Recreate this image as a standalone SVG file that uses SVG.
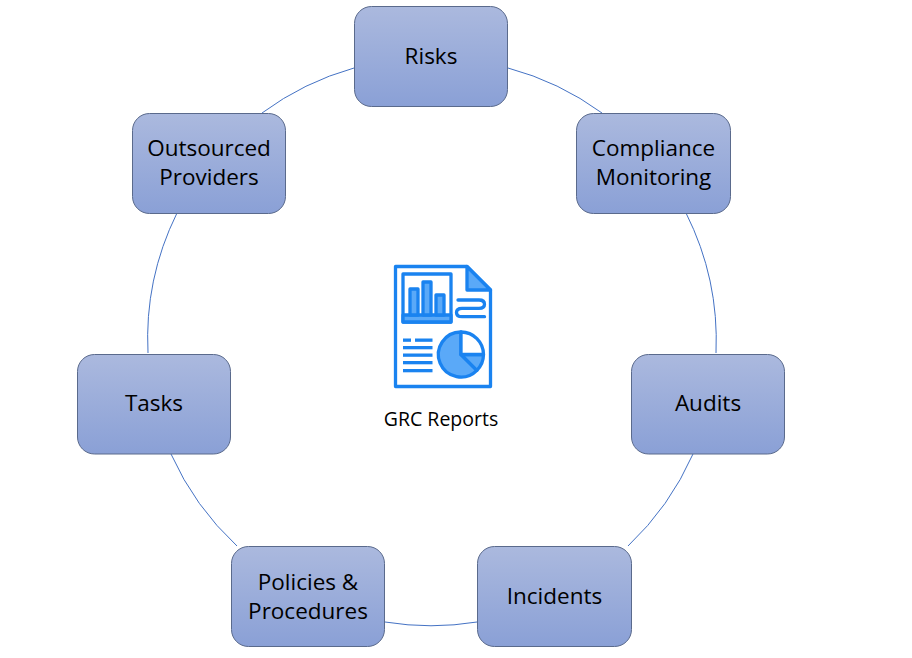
<svg xmlns="http://www.w3.org/2000/svg" width="912" height="658" viewBox="0 0 912 658">
<style>
.n{fill:url(#g);stroke:#5a6a8c;stroke-width:1}
.t{font-family:"Open Sans","Noto Sans",sans-serif;font-size:22.500px;fill:#000;text-anchor:middle}
.c{fill:none;stroke:#4472c4;stroke-width:1}
.s{fill:none;stroke:#1a83f0;stroke-width:3.300;stroke-linejoin:round;stroke-linecap:round}
.f{fill:#5aa9f8;stroke:#1a83f0;stroke-width:3.300;stroke-linejoin:round}
.b{fill:#1a83f0}
</style>
<defs><linearGradient id="g" x1="0" y1="0" x2="0" y2="1"><stop offset="0" stop-color="#abb9de"/><stop offset="1" stop-color="#8aa0d6"/></linearGradient></defs>
<rect width="912" height="658" fill="#fff"/>
<g id="connectors">
<path class="c" d="M262 113A284.500 284.500 0 0 1 354 68"/>
<path class="c" d="M508 68A284.500 284.500 0 0 1 602 113"/>
<path class="c" d="M686 213A284.500 284.500 0 0 1 716 353"/>
<path class="c" d="M693 454A284.500 284.500 0 0 1 628 546"/>
<path class="c" d="M477 622A284.500 284.500 0 0 1 385 622"/>
<path class="c" d="M237 546A284.500 284.500 0 0 1 171 454"/>
<path class="c" d="M148 353A284.500 284.500 0 0 1 177 213"/>
</g>
<g id="risks"><rect class="n" x="354.500" y="6.500" width="153" height="100" rx="17"/><text class="t" x="431" y="64">Risks</text></g>
<g id="compliance"><rect class="n" x="576.500" y="113.500" width="154" height="100" rx="17"/><text class="t" x="653.500" y="156">Compliance</text><text class="t" x="653.500" y="185">Monitoring</text></g>
<g id="audits"><rect class="n" x="631.500" y="354.500" width="153" height="99.500" rx="17"/><text class="t" x="708" y="411">Audits</text></g>
<g id="incidents"><rect class="n" x="477.500" y="546.500" width="154" height="100" rx="17"/><text class="t" x="554.500" y="604">Incidents</text></g>
<g id="policies"><rect class="n" x="231.500" y="546.500" width="153" height="100" rx="17"/><text class="t" x="308" y="590">Policies &amp;</text><text class="t" x="308" y="619">Procedures</text></g>
<g id="tasks"><rect class="n" x="77.500" y="354.500" width="153" height="99.500" rx="17"/><text class="t" x="154" y="411">Tasks</text></g>
<g id="outsourced"><rect class="n" x="132.500" y="113.500" width="153" height="100" rx="17"/><text class="t" x="209" y="156">Outsourced</text><text class="t" x="209" y="185">Providers</text></g>
<g id="grc-reports">
<path class="s" d="M395.500 266.500H467L490.500 290V386.500H395.500Z"/>
<path class="f" d="M467 266.500L490.500 290H467Z"/>
<rect class="s" x="403" y="274" width="48" height="48"/>
<rect class="f" x="403" y="315" width="48" height="7"/>
<path class="f" d="M410 315V289H418V315ZM423 315V282H431V315ZM436 315V295H444V315Z"/>
<path class="s" d="M458 300H479Q484.500 300 484.500 304.200Q484.500 308.300 479 308.300H462Q456.500 308.300 456.500 312.500Q456.500 316.700 462 316.700H484.500"/>
<path class="f" d="M461 332A22.500 22.500 0 1 0 476.900 370.300L461 354.500Z"/>
<path class="f" d="M461 354.500L476.900 370.300A22.500 22.500 0 0 0 483.500 354.500Z"/>
<path class="s" d="M461 332A22.500 22.500 0 0 1 483.500 354.500H461Z" style="fill:#fff"/>
<rect class="b" x="403" y="338.500" width="8" height="3.300"/><rect class="b" x="415" y="338.500" width="17.500" height="3.300"/>
<rect class="b" x="403" y="346" width="29.500" height="3.300"/><rect class="b" x="403" y="353.500" width="29.500" height="3.300"/><rect class="b" x="403" y="361" width="29.500" height="3.300"/><rect class="b" x="403" y="369" width="29.500" height="3.300"/>
<text x="441" y="426" style="font-family:'Open Sans','Noto Sans',sans-serif;font-size:19.500px;text-anchor:middle">GRC Reports</text>
</g>
</svg>
